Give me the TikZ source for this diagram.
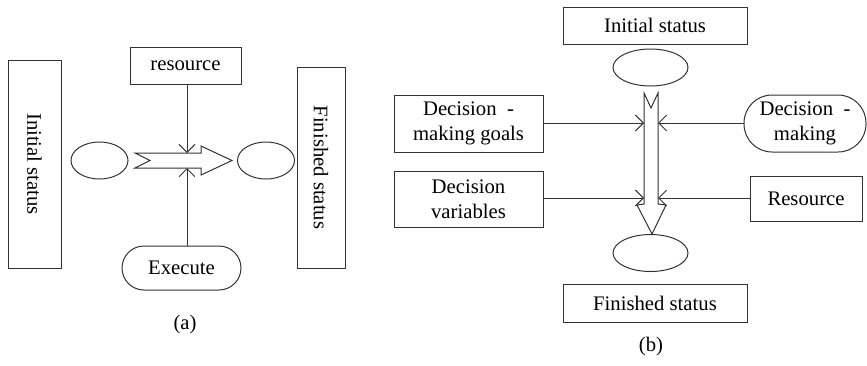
\documentclass[tikz,border=0pt]{standalone}
\usepackage{fontspec}
\setmainfont{Liberation Serif}
\usetikzlibrary{arrows.meta,shapes.geometric}
\begin{document}
\begin{tikzpicture}[x=1pt,y=-1pt,
  every node/.style={font=\fontsize{20.7}{25}\selectfont, inner sep=0pt, align=center},
  line/.style={draw=black!80, line width=1pt},
  box/.style={line, rectangle, anchor=center},
  oval/.style={line, ellipse, minimum width=#1, minimum height=37pt},
  pill/.style={line, rectangle, rounded corners=#1},
  arr/.style={line, -{Straight Barb[length=8pt,width=16pt,line width=1pt]}},
  blockarrow/.style={line, fill=white, line join=miter}]
\useasboundingbox (0,0) rectangle (867,365);

% ---------- panel (a) ----------
\node[box, minimum width=53pt, minimum height=208pt] (initA) at (34.5,164) {\rotatebox{-90}{Initial status}};
\node[box, minimum width=111pt, minimum height=37pt] (resA) at (185.5,65.5) {resource};
\node[box, minimum width=48pt, minimum height=201pt] (finA) at (321,167.5) {\rotatebox{-90}{Finished status}};
\node[oval=57pt] (eA1) at (99.5,160.5) {};
\node[oval=57pt] (eA2) at (266,160.5) {};
\node[pill=22pt, minimum width=119pt, minimum height=44pt] (execA) at (181.5,268) {Execute};
\node (capA) at (185,325) {(a)};

% horizontal block arrow
\draw[blockarrow] (135,153) -- (150,160.5) -- (135,168) -- (201,168) -- (201,175)
  -- (232,160.5) -- (201,146) -- (201,153) -- cycle;
\coordinate (aTop) at (187,153);
\coordinate (aBot) at (187,168);
\draw[arr] (resA.south -| aTop) -- (aTop);
\draw[arr] (execA.north -| aBot) -- (aBot);

% ---------- panel (b) ----------
\node[box, minimum width=184pt, minimum height=37pt] (initB) at (655,25.5) {Initial status};
\node[oval=75pt] (eB1) at (650.5,67.5) {};
\node[oval=75pt] (eB2) at (650.5,253) {};
\node[box, minimum width=184pt, minimum height=38pt] (finB) at (655,303) {Finished status};
\node[box, minimum width=149pt, minimum height=57pt] (goals) at (468.5,123.5) {Decision\ \ -\\making goals};
\node[box, minimum width=149pt, minimum height=56pt] (vars) at (468.5,199) {Decision\\variables};
\node[pill=28pt, minimum width=122pt, minimum height=57pt] (dm) at (805,123.5) {Decision\ \ -\\making};
\node[box, minimum width=112pt, minimum height=45pt] (resB) at (806,198.5) {Resource};
\node (capB) at (651,347) {(b)};

% vertical block arrow
\draw[blockarrow] (644,93) -- (651,108) -- (658,93) -- (658,204) -- (666,205)
  -- (652,234) -- (637,205) -- (644,204) -- cycle;
\coordinate (bL1) at (644,123);
\coordinate (bR1) at (658,123);
\coordinate (bL2) at (644,198);
\coordinate (bR2) at (658,198);
\draw[arr] (goals.east |- bL1) -- (bL1);
\draw[arr] (dm.west |- bR1) -- (bR1);
\draw[arr] (vars.east |- bL2) -- (bL2);
\draw[arr] (resB.west |- bR2) -- (bR2);
\end{tikzpicture}
\end{document}
